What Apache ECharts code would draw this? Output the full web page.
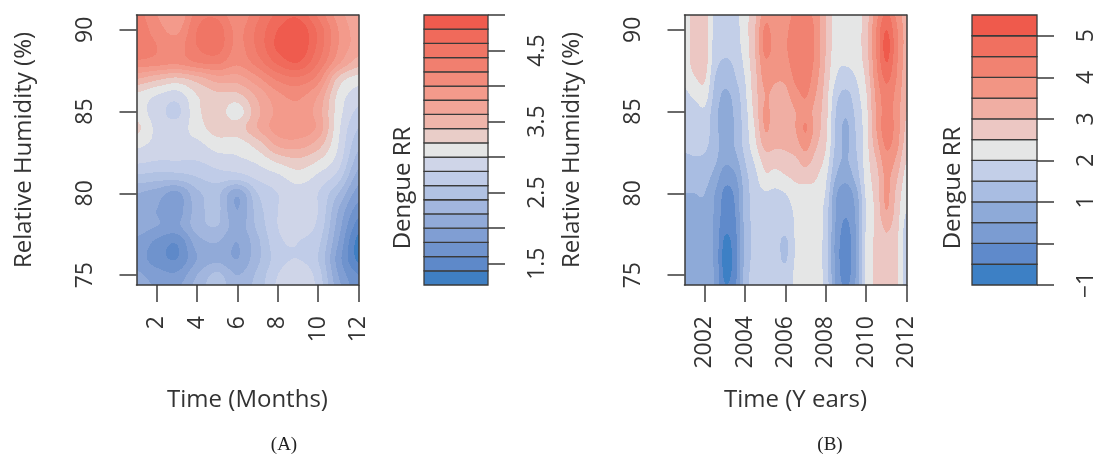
<!DOCTYPE html>
<html>
<head>
<meta charset="utf-8">
<script src="https://cdn.jsdelivr.net/npm/echarts@6/dist/echarts.min.js"></script>
<style>
html, body { margin: 0; padding: 0; background: #fff; }
#chart { width: 1098px; height: 456px; }
</style>
</head>
<body>
<div id="chart"></div>
<script>
// --- data ---
var humidity = [91, 90, 89, 88, 87, 86, 85, 84, 83, 82, 81, 80, 79, 78, 77, 76, 75, 74];

// panel A: rows follow humidity (top to bottom), columns are months 1..12
var months = [1, 2, 3, 4, 5, 6, 7, 8, 9, 10, 11, 12];
var rrMonths = [
    [4.3, 4.0, 3.8, 4.3, 4.35, 4.05, 4.35, 4.65, 4.75, 4.35, 3.9, 3.65],
    [4.35, 4.1, 3.95, 4.4, 4.5, 4.15, 4.45, 4.8, 4.95, 4.55, 4.0, 3.7],
    [4.35, 4.2, 4.1, 4.4, 4.5, 4.15, 4.45, 4.85, 4.98, 4.55, 4.0, 3.7],
    [4.15, 4.1, 4.05, 4.2, 4.25, 4.05, 4.3, 4.65, 4.8, 4.4, 3.85, 3.5],
    [3.6, 3.45, 3.35, 3.5, 3.7, 3.7, 3.95, 4.25, 4.35, 4.1, 3.35, 3.1],
    [3.15, 3.0, 2.9, 3.2, 3.35, 3.35, 3.65, 3.95, 4.05, 3.8, 3.15, 2.9],
    [3.1, 2.9, 2.75, 3.15, 3.3, 3.1, 3.55, 3.85, 3.95, 3.7, 3.1, 2.75],
    [3.25, 2.95, 2.9, 3.1, 3.3, 3.3, 3.6, 3.9, 3.95, 3.75, 3.05, 2.6],
    [3.05, 2.95, 2.95, 2.95, 3.1, 3.1, 3.3, 3.65, 3.7, 3.5, 3.0, 2.45],
    [2.85, 2.8, 2.8, 2.8, 2.9, 2.95, 3.05, 3.25, 3.35, 3.2, 2.9, 2.3],
    [2.55, 2.5, 2.5, 2.6, 2.7, 2.7, 2.85, 2.95, 3.1, 2.95, 2.7, 2.1],
    [2.2, 2.1, 1.95, 2.35, 2.45, 2.05, 2.6, 2.8, 2.9, 2.8, 2.4, 1.9],
    [2.1, 2.0, 1.9, 2.3, 2.45, 2.0, 2.5, 2.8, 2.88, 2.8, 2.2, 1.7],
    [2.1, 2.0, 1.95, 2.3, 2.4, 2.1, 2.45, 2.8, 2.85, 2.75, 2.1, 1.5],
    [1.95, 1.75, 1.62, 2.1, 2.2, 2.0, 2.35, 2.75, 2.8, 2.65, 2.0, 1.32],
    [1.9, 1.7, 1.6, 2.0, 2.15, 2.0, 2.35, 2.7, 2.8, 2.6, 1.9, 1.35],
    [2.05, 1.9, 1.85, 2.2, 2.45, 2.2, 2.45, 2.8, 2.95, 2.7, 2.0, 1.6],
    [2.15, 2.0, 2.0, 2.3, 2.5, 2.3, 2.5, 2.85, 3.0, 2.75, 2.1, 1.7]
];

// panel B: one column per half year, values follow humidity (top to bottom)
var years = [2001, 2001.5, 2002, 2002.5, 2003, 2003.5, 2004, 2004.5, 2005, 2005.5, 2006, 2006.5,
             2007, 2007.5, 2008, 2008.5, 2009, 2009.5, 2010, 2010.5, 2011, 2011.5, 2012];
var rrYearCols = [
    [2.3, 2.3, 2.3, 2.25, 2.1, 1.9, 1.8, 1.7, 1.6, 1.4, 1.2, 1.0, 0.9, 0.85, 0.8, 0.8, 0.85, 0.9],
    [2.7, 2.7, 2.7, 2.7, 2.45, 2.1, 1.8, 1.7, 1.6, 1.45, 1.2, 1.0, 0.9, 0.8, 0.75, 0.75, 0.8, 0.85],
    [2.75, 2.75, 2.75, 2.75, 2.55, 2.25, 1.9, 1.75, 1.6, 1.4, 1.2, 1.0, 0.85, 0.75, 0.7, 0.7, 0.75, 0.8],
    [1.9, 1.85, 1.8, 1.7, 1.5, 1.35, 1.2, 1.2, 1.25, 1.1, 0.8, 0.5, 0.45, 0.4, 0.4, 0.4, 0.45, 0.5],
    [1.7, 1.65, 1.6, 1.45, 1.2, 0.9, 0.75, 0.7, 0.75, 0.6, 0.2, -0.1, -0.2, -0.35, -0.6, -0.7, -0.6, -0.4],
    [1.85, 1.8, 1.75, 1.6, 1.45, 1.2, 1.1, 1.05, 1.05, 0.8, 0.4, 0.1, 0.0, -0.1, -0.2, -0.25, -0.2, 0.0],
    [2.3, 2.3, 2.25, 2.15, 2.0, 1.9, 1.8, 1.75, 1.7, 1.5, 1.3, 1.2, 1.2, 1.15, 1.15, 1.15, 1.2, 1.2],
    [2.9, 3.0, 3.0, 2.95, 2.85, 2.8, 2.7, 2.55, 2.4, 2.1, 1.85, 1.75, 1.7, 1.65, 1.65, 1.65, 1.7, 1.7],
    [3.8, 4.1, 4.2, 3.9, 3.7, 3.5, 3.6, 3.55, 3.2, 2.7, 2.4, 1.95, 1.8, 1.75, 1.7, 1.75, 1.75, 1.8],
    [3.6, 3.75, 3.8, 3.7, 3.55, 3.35, 3.2, 3.2, 3.1, 2.7, 2.3, 1.9, 1.8, 1.7, 1.7, 1.7, 1.7, 1.75],
    [3.8, 3.9, 3.95, 3.85, 3.6, 3.35, 3.2, 3.2, 3.1, 2.8, 2.45, 2.0, 1.75, 1.7, 1.4, 1.45, 1.7, 1.75],
    [4.1, 4.25, 4.3, 4.25, 4.1, 3.8, 3.5, 3.5, 3.3, 2.9, 2.6, 2.3, 2.1, 2.05, 2.05, 2.05, 2.1, 2.1],
    [4.2, 4.35, 4.4, 4.35, 4.25, 4.05, 3.8, 4.05, 3.7, 3.2, 2.7, 2.3, 2.25, 2.3, 2.3, 2.3, 2.3, 2.3],
    [3.8, 3.9, 3.9, 3.85, 3.7, 3.5, 3.3, 3.3, 3.1, 2.8, 2.55, 2.3, 2.25, 2.25, 2.25, 2.2, 2.2, 2.2],
    [3.0, 3.0, 3.0, 2.95, 2.85, 2.75, 2.7, 2.65, 2.55, 2.35, 2.1, 1.95, 1.8, 1.8, 1.75, 1.75, 1.8, 1.85],
    [2.3, 2.3, 2.25, 2.15, 2.0, 1.7, 1.5, 1.45, 1.4, 1.25, 1.0, 0.6, 0.5, 0.45, 0.35, 0.35, 0.4, 0.5],
    [2.25, 2.25, 2.2, 2.05, 1.8, 1.35, 1.1, 0.9, 0.9, 0.95, 0.7, 0.2, 0.1, -0.1, -0.25, -0.3, -0.2, 0.0],
    [2.3, 2.3, 2.3, 2.2, 2.0, 1.8, 1.65, 1.55, 1.5, 1.4, 1.2, 0.8, 0.6, 0.55, 0.5, 0.5, 0.55, 0.6],
    [2.75, 2.8, 2.8, 2.75, 2.6, 2.45, 2.35, 2.3, 2.3, 2.25, 2.2, 2.1, 2.0, 2.05, 2.1, 2.1, 2.1, 2.1],
    [3.8, 4.0, 4.0, 3.95, 3.8, 3.6, 3.55, 3.5, 3.3, 3.0, 2.8, 2.7, 2.65, 2.6, 2.6, 2.6, 2.6, 2.6],
    [4.6, 5.0, 5.2, 5.0, 4.6, 4.3, 4.2, 4.3, 4.1, 3.8, 3.6, 3.6, 3.5, 3.1, 2.9, 2.85, 2.8, 2.8],
    [3.9, 4.1, 4.2, 4.1, 4.0, 3.85, 3.8, 3.8, 3.7, 3.4, 3.1, 2.9, 2.8, 2.7, 2.6, 2.6, 2.6, 2.6],
    [3.2, 3.3, 3.3, 3.25, 3.2, 3.1, 3.0, 2.9, 2.75, 2.5, 2.3, 2.15, 2.0, 1.8, 1.7, 1.7, 1.75, 1.8]
];

// contour levels and key ticks
var breaksA = [1.2, 1.4, 1.6, 1.8, 2.0, 2.2, 2.4, 2.6, 2.8, 3.0, 3.2, 3.4, 3.6, 3.8, 4.0, 4.2, 4.4, 4.6, 4.8, 5.0];
var keyTicksA = [1.5, 2, 2.5, 3, 3.5, 4, 4.5, 5];
var keyLabelsA = [1.5, 2.5, 3.5, 4.5];
var breaksB = [-1, -0.5, 0, 0.5, 1, 1.5, 2, 2.5, 3, 3.5, 4, 4.5, 5, 5.5];
var keyTicksB = [-1, 0, 1, 2, 3, 4, 5];
var keyLabelsB = [-1, 1, 2, 3, 4, 5];
var monthTicks = [2, 4, 6, 8, 10, 12];
var yearTicks = [2002, 2004, 2006, 2008, 2010, 2012];
var humidityTicks = [75, 80, 85, 90];

// palettes, low to high
var colorsA = ['#3f7fc3', '#5e89c9', '#6f93cd', '#809ed3', '#91aad8', '#a2b6de', '#b1c2e3', '#c0cce8', '#cfd5e8',
               '#e5e6e6',
               '#e9cdc8', '#efb5aa', '#f2a598', '#f39a8b', '#f28b7b', '#f17f6f', '#f07565', '#f06a5b', '#ef5b4e'];
var colorsB = ['#3d80c5', '#5f8acb', '#7b9cd2', '#8eaad8', '#a9bde2', '#c3cfe8',
               '#e5e6e6',
               '#ecc7c3', '#f0aea3', '#f29584', '#f18271', '#f07060', '#ef5a4c'];

var LINE = '#3a3a3a';
var TEXT = '#333';
var FONT = 'Open Sans';

function transpose(cols) {
    var rows = [];
    for (var r = 0; r < cols[0].length; r++) {
        rows.push(cols.map(function (c) { return c[r]; }));
    }
    return rows;
}
var rrYears = transpose(rrYearCols);

// catmull-rom smoothing between grid nodes, like a filled contour
function cr(a, b, c, d, t) {
    return b + 0.5 * t * (c - a + t * (2 * a - 5 * b + 4 * c - d + t * (3 * (b - c) + d - a)));
}
function zAt(z, r, c) {
    r = Math.max(0, Math.min(z.length - 1, r));
    c = Math.max(0, Math.min(z[0].length - 1, c));
    return z[r][c];
}
function smooth(z, i, j, tx, ty) {
    var v = [];
    for (var k = -1; k <= 2; k++) {
        v.push(cr(zAt(z, j + k, i - 1), zAt(z, j + k, i), zAt(z, j + k, i + 1), zAt(z, j + k, i + 2), tx));
    }
    return cr(v[0], v[1], v[2], v[3], ty);
}
function bandOf(v, breaks) {
    for (var k = 0; k < breaks.length - 2; k++) {
        if (v < breaks[k + 1]) return k;
    }
    return breaks.length - 2;
}

function contourSeries(xs, ys, z, breaks, colors, axisIdx) {
    var data = [];
    for (var j = 0; j < ys.length - 1; j++) {
        for (var i = 0; i < xs.length - 1; i++) {
            data.push([xs[i], ys[j], i, j]);
        }
    }
    return {
        type: 'custom',
        xAxisIndex: axisIdx,
        yAxisIndex: axisIdx,
        clip: true,
        silent: true,
        z: 1,
        encode: {x: 0, y: 1},
        data: data,
        renderItem: function (params, api) {
            var i = api.value(2), j = api.value(3);
            var p0 = api.coord([xs[i], ys[j]]);
            var p1 = api.coord([xs[i + 1], ys[j + 1]]);
            var x0 = Math.round(Math.min(p0[0], p1[0])), x1 = Math.round(Math.max(p0[0], p1[0]));
            var y0 = Math.round(Math.min(p0[1], p1[1])), y1 = Math.round(Math.max(p0[1], p1[1]));
            var kids = [];
            for (var py = y0; py < y1; py++) {
                var ty = (py + 0.5 - p0[1]) / (p1[1] - p0[1]);
                var start = x0, cur = -1;
                for (var px = x0; px <= x1; px++) {
                    var b = -1;
                    if (px < x1) {
                        var tx = (px + 0.5 - p0[0]) / (p1[0] - p0[0]);
                        b = bandOf(smooth(z, i, j, tx, ty), breaks);
                    }
                    if (b !== cur) {
                        if (cur >= 0) {
                            kids.push({type: 'rect', shape: {x: start, y: py, width: px - start, height: 1},
                                style: {fill: colors[cur]}});
                        }
                        start = px;
                        cur = b;
                    }
                }
            }
            return {type: 'group', children: kids};
        }
    };
}

function keySeries(breaks, colors, axisIdx) {
    var data = [];
    for (var k = 0; k < breaks.length - 1; k++) data.push([0, breaks[k], breaks[k + 1], k]);
    return {
        type: 'custom',
        xAxisIndex: axisIdx,
        yAxisIndex: axisIdx,
        silent: true,
        z: 1,
        encode: {x: 0, y: 1},
        data: data,
        renderItem: function (params, api) {
            var lo = api.coord([0, api.value(1)]);
            var hi = api.coord([1, api.value(2)]);
            return {
                type: 'rect',
                shape: {x: lo[0], y: hi[1], width: hi[0] - lo[0], height: lo[1] - hi[1]},
                style: {fill: colors[api.value(3)], stroke: LINE, lineWidth: 1.3}
            };
        }
    };
}

function minusFmt(v) {
    return v < 0 ? '\u2212' + Math.abs(v) : String(v);
}

function plotXAxis(grid, min, max, ticks, name) {
    return {
        type: 'value', gridIndex: grid, min: min, max: max, z: 10,
        axisLine: {show: true, onZero: false, lineStyle: {color: LINE, width: 1.5}},
        axisTick: {show: true, inside: false, length: 17, customValues: ticks, lineStyle: {color: LINE, width: 1.5}},
        axisLabel: {customValues: ticks, rotate: 90, margin: 31, fontSize: 23, color: TEXT, fontFamily: FONT,
            formatter: function (v) { return String(v); }},
        splitLine: {show: false},
        name: name, nameLocation: 'middle', nameGap: 103,
        nameTextStyle: {fontSize: 24, color: TEXT, fontFamily: FONT}
    };
}
function boxAxis(grid, pos, min, max) {
    return {
        type: 'value', gridIndex: grid, position: pos, min: min, max: max, z: 10,
        axisLine: {show: true, onZero: false, lineStyle: {color: LINE, width: 1.5}},
        axisTick: {show: false}, axisLabel: {show: false}, splitLine: {show: false}
    };
}
function hiddenAxis(grid) {
    return {type: 'value', gridIndex: grid, min: 0, max: 1, show: false};
}
function plotYAxis(grid) {
    return {
        type: 'value', gridIndex: grid, position: 'left', min: 74.4, max: 90.9, z: 10,
        axisLine: {show: true, onZero: false, lineStyle: {color: LINE, width: 1.5}},
        axisTick: {show: true, inside: false, length: 17, customValues: humidityTicks, lineStyle: {color: LINE, width: 1.5}},
        axisLabel: {customValues: humidityTicks, rotate: 90, margin: 40, fontSize: 23, color: TEXT, fontFamily: FONT},
        splitLine: {show: false},
        name: 'Relative Humidity (%)', nameLocation: 'middle', nameGap: 100,
        nameTextStyle: {fontSize: 24, color: TEXT, fontFamily: FONT}
    };
}
function keyYAxis(grid, min, max, ticks, labels) {
    return {
        type: 'value', gridIndex: grid, position: 'right', min: min, max: max, z: 10,
        axisLine: {show: false, onZero: false},
        axisTick: {show: true, inside: false, length: 17, customValues: ticks, lineStyle: {color: LINE, width: 1.5}},
        axisLabel: {customValues: labels, rotate: 90, margin: 38, fontSize: 23, color: TEXT, fontFamily: FONT,
            formatter: minusFmt},
        splitLine: {show: false}
    };
}

var chart = echarts.init(document.getElementById('chart'));
chart.setOption({
    animation: false,
    backgroundColor: '#fff',
    grid: [
        {left: 136.5, top: 15, width: 222, height: 270},
        {left: 424, top: 15, width: 64, height: 270},
        {left: 684.5, top: 15, width: 222, height: 270},
        {left: 972, top: 15, width: 65, height: 270}
    ],
    xAxis: [
        plotXAxis(0, 1, 12, monthTicks, 'Time (Months)'),
        hiddenAxis(1),
        plotXAxis(2, 2001, 2012, yearTicks, 'Time (Y ears)'),
        hiddenAxis(3),
        boxAxis(0, 'top', 1, 12),
        boxAxis(2, 'top', 2001, 2012)
    ],
    yAxis: [
        plotYAxis(0),
        keyYAxis(1, 1.2, 5.0, keyTicksA, keyLabelsA),
        plotYAxis(2),
        keyYAxis(3, -1, 5.5, keyTicksB, keyLabelsB),
        boxAxis(0, 'right', 74.4, 90.9),
        boxAxis(2, 'right', 74.4, 90.9)
    ],
    graphic: [
        {type: 'text', x: 403, y: 188, rotation: Math.PI / 2,
            style: {text: 'Dengue RR', fontSize: 24, fontFamily: FONT, fill: TEXT, align: 'center', verticalAlign: 'middle'}},
        {type: 'text', x: 953, y: 188, rotation: Math.PI / 2,
            style: {text: 'Dengue RR', fontSize: 24, fontFamily: FONT, fill: TEXT, align: 'center', verticalAlign: 'middle'}},
        {type: 'text', x: 284, y: 445,
            style: {text: '(A)', fontSize: 19, fontFamily: 'Liberation Serif', fill: '#222', align: 'center', verticalAlign: 'middle'}},
        {type: 'text', x: 830, y: 445,
            style: {text: '(B)', fontSize: 19, fontFamily: 'Liberation Serif', fill: '#222', align: 'center', verticalAlign: 'middle'}}
    ],
    series: [
        contourSeries(months, humidity, rrMonths, breaksA, colorsA, 0),
        keySeries(breaksA, colorsA, 1),
        contourSeries(years, humidity, rrYears, breaksB, colorsB, 2),
        keySeries(breaksB, colorsB, 3)
    ]
});
</script>
</body>
</html>
